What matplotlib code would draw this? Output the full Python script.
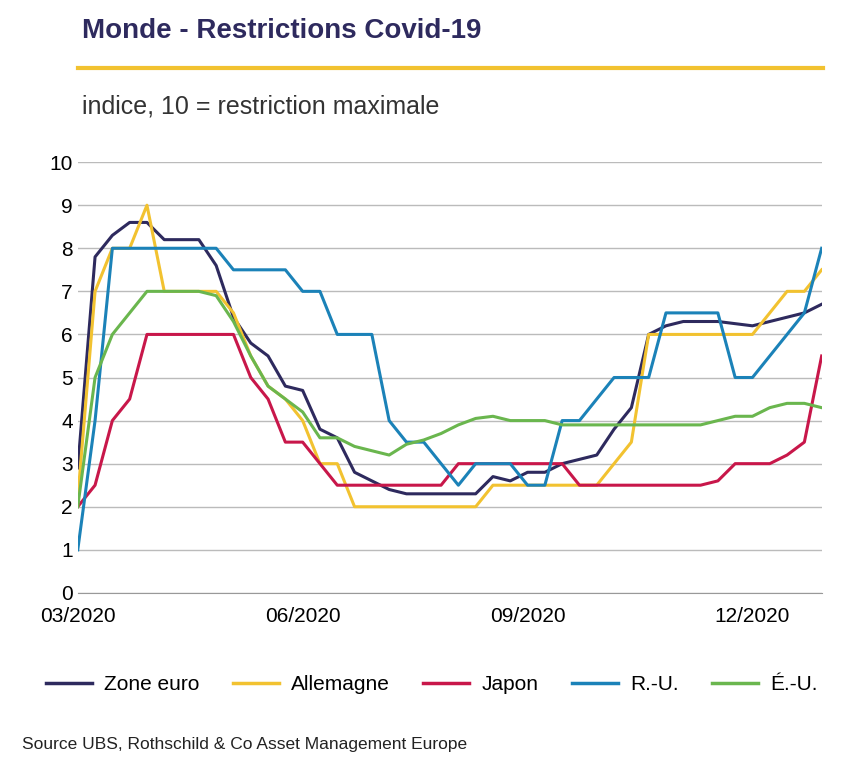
import numpy as np
from matplotlib import pyplot as plt
from matplotlib.lines import Line2D

tick_pos = [0, 13, 26, 39]
tick_labels = ["03/2020", "06/2020", "09/2020", "12/2020"]

zone_euro = [2.9, 7.8, 8.3, 8.6, 8.6, 8.2, 8.2, 8.2, 7.6, 6.4, 5.8, 5.5, 4.8, 4.7, 3.8, 3.6,
             2.8, 2.6, 2.4, 2.3, 2.3, 2.3, 2.3, 2.3, 2.7, 2.6, 2.8, 2.8, 3.0, 3.1, 3.2, 3.8,
             4.3, 6.0, 6.2, 6.3, 6.3, 6.3, 6.25, 6.2, 6.3, 6.4, 6.5, 6.7]
allemagne = [2.2, 7.0, 8.0, 8.0, 9.0, 7.0, 7.0, 7.0, 7.0, 6.5, 5.5, 4.8, 4.5, 4.0, 3.0, 3.0,
             2.0, 2.0, 2.0, 2.0, 2.0, 2.0, 2.0, 2.0, 2.5, 2.5, 2.5, 2.5, 2.5, 2.5, 2.5, 3.0,
             3.5, 6.0, 6.0, 6.0, 6.0, 6.0, 6.0, 6.0, 6.5, 7.0, 7.0, 7.5]
japon = [2.0, 2.5, 4.0, 4.5, 6.0, 6.0, 6.0, 6.0, 6.0, 6.0, 5.0, 4.5, 3.5, 3.5, 3.0, 2.5,
         2.5, 2.5, 2.5, 2.5, 2.5, 2.5, 3.0, 3.0, 3.0, 3.0, 3.0, 3.0, 3.0, 2.5, 2.5, 2.5,
         2.5, 2.5, 2.5, 2.5, 2.5, 2.6, 3.0, 3.0, 3.0, 3.2, 3.5, 5.5]
ru = [1.0, 4.0, 8.0, 8.0, 8.0, 8.0, 8.0, 8.0, 8.0, 7.5, 7.5, 7.5, 7.5, 7.0, 7.0, 6.0,
      6.0, 6.0, 4.0, 3.5, 3.5, 3.0, 2.5, 3.0, 3.0, 3.0, 2.5, 2.5, 4.0, 4.0, 4.5, 5.0,
      5.0, 5.0, 6.5, 6.5, 6.5, 6.5, 5.0, 5.0, 5.5, 6.0, 6.5, 8.0]
eu = [2.0, 5.0, 6.0, 6.5, 7.0, 7.0, 7.0, 7.0, 6.9, 6.3, 5.5, 4.8, 4.5, 4.2, 3.6, 3.6,
      3.4, 3.3, 3.2, 3.45, 3.55, 3.7, 3.9, 4.05, 4.1, 4.0, 4.0, 4.0, 3.9, 3.9, 3.9, 3.9,
      3.9, 3.9, 3.9, 3.9, 3.9, 4.0, 4.1, 4.1, 4.3, 4.4, 4.4, 4.3]

series = [("Zone euro", zone_euro, "#2e2a5e"), ("Allemagne", allemagne, "#f2c230"),
          ("Japon", japon, "#c8174a"), ("R.-U.", ru, "#1b82b8"), ("É.-U.", eu, "#6ab64e")]

plt.rcParams['font.family'] = ['Liberation Sans', 'DejaVu Sans']
fig = plt.figure(figsize=(8.64, 7.72), dpi=100)
ax = fig.add_axes([0.09, 0.232, 0.861, 0.558])

x = np.arange(len(zone_euro))
for name, vals, col in series:
    ax.plot(x, vals, color=col, lw=2.2)

ax.set_xlim(0, len(zone_euro) - 1)
ax.set_ylim(0, 10)
ax.set_yticks(range(11))
ax.set_xticks(tick_pos)
ax.set_xticklabels(tick_labels)
ax.tick_params(labelsize=15, length=0, colors="black")
ax.tick_params(axis="x", pad=10)
ax.grid(axis="y", color="#bbbbbb", lw=1)
ax.set_axisbelow(True)
for s in ["top", "right", "left"]:
    ax.spines[s].set_visible(False)
ax.spines["bottom"].set_color("#999999")

fig.text(0.095, 0.96, "Monde - Restrictions Covid-19", fontsize=20, fontweight="bold",
         color="#2e2a5e", va="center")
fig.add_artist(Line2D([0.09, 0.953], [0.912, 0.912], color="#f2c230", lw=3))
fig.text(0.095, 0.862, "indice, 10 = restriction maximale", fontsize=18, color="#333333",
         va="center")

handles = [Line2D([], [], color=c, lw=2.5) for _, _, c in series]
fig.legend(handles, [n for n, _, _ in series], loc="center", bbox_to_anchor=(0.5, 0.113),
           ncol=5, frameon=False, fontsize=15, handlelength=2.2, handletextpad=0.6,
           columnspacing=1.6)
fig.text(0.025, 0.03, "Source UBS, Rothschild & Co Asset Management Europe", fontsize=12.5,
         color="#222222")

fig.savefig("out.png", dpi=100)
